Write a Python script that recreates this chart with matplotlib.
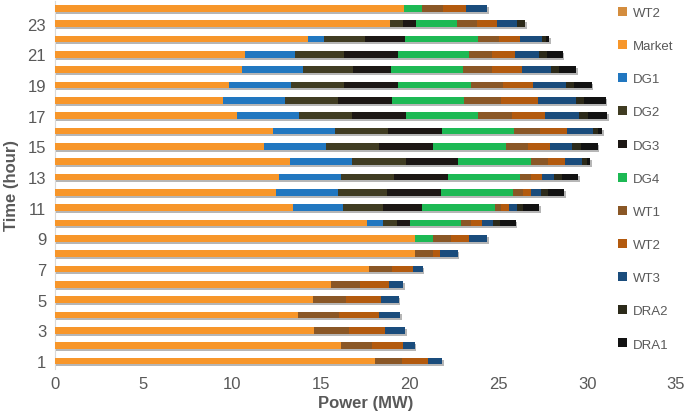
import matplotlib
matplotlib.use("Agg")
import matplotlib.pyplot as plt
import matplotlib.patheffects as pe
from matplotlib.patches import Patch
import numpy as np

hours = list(range(1, 25))

market = [18.05, 16.13, 14.61, 13.73, 14.54, 15.57, 17.73, 20.3, 20.3, 17.58, 13.41, 12.47,
          12.66, 13.26, 11.81, 12.32, 10.29, 9.49, 9.84, 10.56, 10.73, 14.25, 18.89, 19.7]
dg1 = [0, 0, 0, 0, 0, 0, 0, 0, 0, 0.94, 2.85, 3.48,
       3.47, 3.51, 3.48, 3.47, 3.48, 3.49, 3.48, 3.45, 2.81, 0.94, 0, 0]
dg2 = [0, 0, 0, 0, 0, 0, 0, 0, 0, 0.75, 2.22, 2.79,
       3.0, 3.0, 3.0, 3.01, 3.0, 3.0, 3.0, 2.78, 2.78, 2.29, 0.71, 0]
dg3 = [0, 0, 0, 0, 0, 0, 0, 0, 0, 0.75, 2.22, 3.0,
       3.01, 2.97, 3.0, 3.0, 3.0, 3.0, 3.0, 2.16, 3.0, 2.26, 0.75, 0]
dg4 = [0, 0, 0, 0, 0, 0, 0, 0, 1.03, 2.85, 4.1, 4.09,
       4.07, 4.09, 4.11, 4.07, 4.09, 4.08, 4.11, 4.07, 4.02, 4.09, 2.33, 0.97]
wt1 = [1.5, 1.73, 2.0, 2.29, 1.87, 1.63, 1.25, 1.03, 1.0, 0.58, 0.34, 0.53,
       0.62, 0.97, 1.24, 1.47, 1.88, 2.08, 1.8, 1.63, 1.31, 1.2, 1.13, 1.22]
wt2 = [1.5, 1.74, 2.03, 2.25, 1.96, 1.65, 1.22, 0.37, 1.03, 0.62, 0.47, 0.47,
       0.64, 0.94, 1.26, 1.5, 1.91, 2.1, 1.73, 1.69, 1.28, 1.18, 1.09, 1.26]
wt3 = [0.8, 0.68, 1.11, 1.2, 1.01, 0.79, 0.53, 1.0, 1.01, 0.64, 0.41, 0.56,
       0.65, 0.98, 1.22, 1.5, 1.9, 2.11, 1.82, 1.62, 1.35, 1.22, 1.16, 1.22]
dra2 = [0, 0, 0, 0, 0, 0, 0, 0, 0, 0.37, 0.38, 0.41,
        0.47, 0.25, 0.51, 0.25, 0.47, 0.48, 0.47, 0.45, 0.43, 0.23, 0.43, 0]
dra1 = [0, 0, 0, 0, 0, 0, 0, 0, 0, 0.89, 0.9, 0.89,
        0.91, 0.2, 0.95, 0.25, 1.1, 1.2, 1.0, 0.95, 0.9, 0.2, 0, 0]

series_names = ["Market", "DG1", "DG2", "DG3", "DG4", "WT1", "WT2", "WT3", "DRA2", "DRA1"]
series_vals = [market, dg1, dg2, dg3, dg4, wt1, wt2, wt3, dra2, dra1]
colors = ["#F7962A", "#2177C0", "#403C22", "#1C1714", "#1DB954", "#8A5726",
          "#B35A0E", "#1A4C7C", "#2C2A1A", "#121212"]
extra_name = "WT2"
extra_color = "#D48D3E"

tick_color = "#595959"
plt.rcParams['font.family'] = ['Liberation Sans', 'DejaVu Sans']

fig = plt.figure(figsize=(6.85, 4.14), dpi=100)
ax = fig.add_axes([54.5 / 685, 1 - 369.7 / 414, (676 - 54.5) / 685, (369.7 - 1.6) / 414])

left = np.zeros(len(hours))
shadow = [pe.SimplePatchShadow(offset=(1.2, -1.5), shadow_rgbFace='#7a7a7a', alpha=0.55), pe.Normal()]
for name, vals, col in zip(series_names, series_vals, colors):
    v = np.array(vals, dtype=float)
    bars = ax.barh(hours, v, left=left, height=0.44, color=col, edgecolor='none', zorder=3)
    for b in bars:
        b.set_path_effects(shadow)
    left += v

ax.set_xlim(0, 35)
ax.set_ylim(0.5, 24.5)
ax.set_xticks(range(0, 36, 5))
ax.set_yticks(range(1, 24, 2))
ax.tick_params(axis='both', length=0, colors=tick_color, labelsize=12)
ax.tick_params(axis='x', pad=5)
ax.tick_params(axis='y', pad=6)
for s in ['top', 'right', 'bottom']:
    ax.spines[s].set_visible(False)
ax.spines['left'].set_color('#d9d9d9')
ax.spines['left'].set_linewidth(0.8)

ax.set_xlabel("Power (MW)", fontsize=12, fontweight='bold', color=tick_color, labelpad=3)
ax.set_ylabel("Time (hour)", fontsize=12, fontweight='bold', color=tick_color, labelpad=6)

handles = [Patch(facecolor=extra_color, edgecolor='none', label=extra_name)]
handles += [Patch(facecolor=c, edgecolor='none', label=n) for n, c in zip(series_names, colors)]
leg = fig.legend(handles=handles, loc='upper left', bbox_to_anchor=(618 / 685, 1 - 8 / 414),
                 frameon=False, fontsize=9.5, handlelength=0.65, handleheight=0.65,
                 handletextpad=0.5, labelspacing=1.6, borderaxespad=0, borderpad=0)
for t in leg.get_texts():
    t.set_color(tick_color)

fig.savefig("out.png", dpi=100, facecolor='white')
